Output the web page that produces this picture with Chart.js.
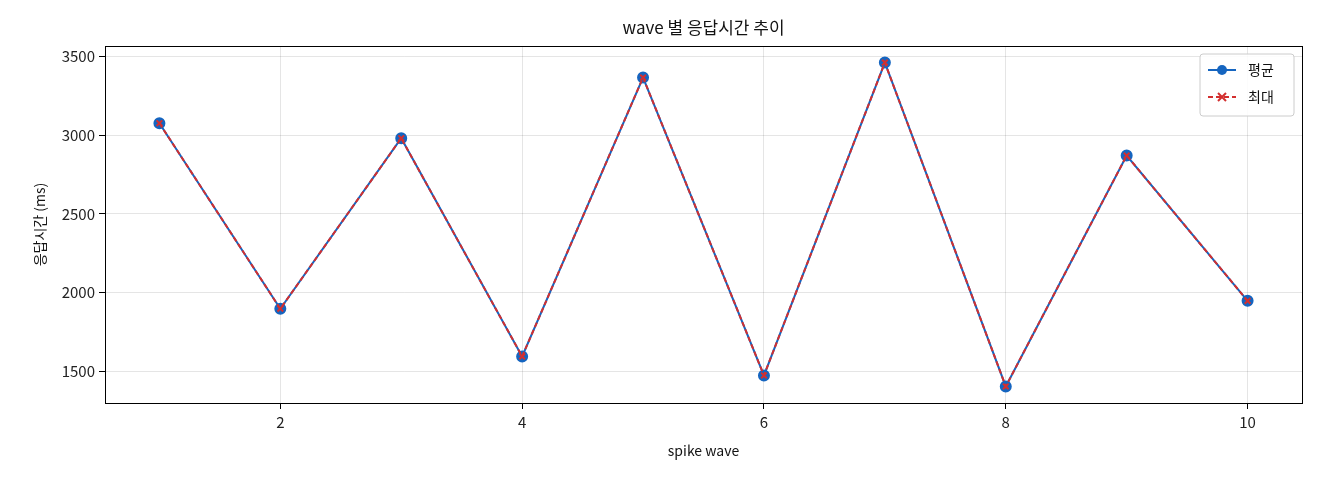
<!DOCTYPE html>
<html>
<head>
<meta charset="utf-8">
<script src="https://cdn.jsdelivr.net/npm/chart.js@4"></script>
<style>
  body { margin: 0; background: #fff; }
  #wrap { width: 1320px; height: 480px; }
</style>
</head>
<body>
<div id="wrap"><canvas id="c"></canvas></div>
<script>
const waves = [1, 2, 3, 4, 5, 6, 7, 8, 9, 10];
const avgMs = [3075, 1898, 2980, 1595, 3365, 1475, 3460, 1405, 2870, 1948];
const maxMs = [3075, 1898, 2980, 1595, 3365, 1475, 3460, 1405, 2870, 1948];
const xTicks = [2, 4, 6, 8, 10];
const yTicks = [1500, 2000, 2500, 3000, 3500];

const FONT = '"Noto Sans CJK KR", "Noto Sans", sans-serif';
const BLUE = '#1565c0';
const RED = '#d32f2f';

Chart.defaults.font.family = FONT;
Chart.defaults.color = '#222';

// title + legend box + frame + axis titles
const decorPlugin = {
    id: 'decor',
    afterDraw(chart) {
        const ctx = chart.ctx;
        const a = chart.chartArea;
        ctx.save();
        ctx.strokeStyle = '#000';
        ctx.lineWidth = 1;
        ctx.strokeRect(a.left + 0.5, a.top + 0.5, a.right - a.left, a.bottom - a.top);

        ctx.fillStyle = '#111';
        ctx.font = '17px ' + FONT;
        ctx.textAlign = 'center';
        ctx.textBaseline = 'middle';
        ctx.fillText('wave 별 응답시간 추이', (a.left + a.right) / 2, 28);

        ctx.font = '14px ' + FONT;
        ctx.fillText('spike wave', (a.left + a.right) / 2, 451);
        ctx.save();
        ctx.translate(40, (a.top + a.bottom) / 2);
        ctx.rotate(-Math.PI / 2);
        ctx.fillText('응답시간 (ms)', 0, 0);
        ctx.restore();

        // legend
        const bx = a.right - 102, by = a.top + 8, bw = 94, bh = 62;
        ctx.fillStyle = 'rgba(255,255,255,0.85)';
        ctx.strokeStyle = '#ccc';
        ctx.beginPath();
        ctx.roundRect(bx, by, bw, bh, 3);
        ctx.fill();
        ctx.stroke();

        ctx.lineWidth = 2;
        ctx.strokeStyle = BLUE;
        ctx.beginPath(); ctx.moveTo(bx + 8, by + 16); ctx.lineTo(bx + 36, by + 16); ctx.stroke();
        ctx.fillStyle = BLUE;
        ctx.beginPath(); ctx.arc(bx + 22, by + 16, 5, 0, Math.PI * 2); ctx.fill();

        ctx.strokeStyle = RED;
        ctx.setLineDash([5, 3]);
        ctx.beginPath(); ctx.moveTo(bx + 8, by + 43); ctx.lineTo(bx + 36, by + 43); ctx.stroke();
        ctx.setLineDash([]);
        ctx.beginPath();
        ctx.moveTo(bx + 18, by + 39); ctx.lineTo(bx + 26, by + 47);
        ctx.moveTo(bx + 26, by + 39); ctx.lineTo(bx + 18, by + 47);
        ctx.stroke();

        ctx.fillStyle = '#111';
        ctx.font = '14px ' + FONT;
        ctx.textAlign = 'left';
        ctx.fillText('평균', bx + 48, by + 16);
        ctx.fillText('최대', bx + 48, by + 43);
        ctx.restore();
    }
};

new Chart(document.getElementById('c'), {
    type: 'line',
    data: {
        datasets: [
            {
                label: '평균',
                data: waves.map((w, i) => ({ x: w, y: avgMs[i] })),
                borderColor: BLUE,
                backgroundColor: BLUE,
                borderWidth: 2,
                pointRadius: 5,
                pointStyle: 'circle',
                tension: 0,
                order: 2,
            },
            {
                label: '최대',
                data: waves.map((w, i) => ({ x: w, y: maxMs[i] })),
                borderColor: RED,
                backgroundColor: RED,
                borderWidth: 2,
                borderDash: [5, 3],
                pointRadius: 4,
                pointStyle: 'crossRot',
                pointBorderWidth: 2,
                tension: 0,
                order: 1,
            },
        ],
    },
    options: {
        responsive: true,
        maintainAspectRatio: false,
        animation: false,
        layout: { padding: { top: 46, right: 18, left: 0, bottom: 0 } },
        plugins: {
            legend: { display: false },
            title: { display: false },
            tooltip: { enabled: false },
        },
        scales: {
            x: {
                type: 'linear',
                min: 0.55,
                max: 10.45,
                afterBuildTicks: (axis) => { axis.ticks = xTicks.map(v => ({ value: v })); },
                afterFit: (axis) => { axis.height = 77; },
                grid: { color: 'rgba(0,0,0,0.1)', drawTicks: true, tickLength: 6, tickColor: '#000' },
                border: { display: false },
                ticks: { font: { size: 15 }, color: '#222', padding: 4, callback: v => String(v) },
            },
            y: {
                min: 1300,
                max: 3565,
                afterBuildTicks: (axis) => { axis.ticks = yTicks.map(v => ({ value: v })); },
                afterFit: (axis) => { axis.width = 105; },
                grid: { color: 'rgba(0,0,0,0.1)', drawTicks: true, tickLength: 6, tickColor: '#000' },
                border: { display: false },
                ticks: { font: { size: 15 }, color: '#222', padding: 4, callback: v => String(v) },
            },
        },
    },
    plugins: [decorPlugin],
});
</script>
</body>
</html>
